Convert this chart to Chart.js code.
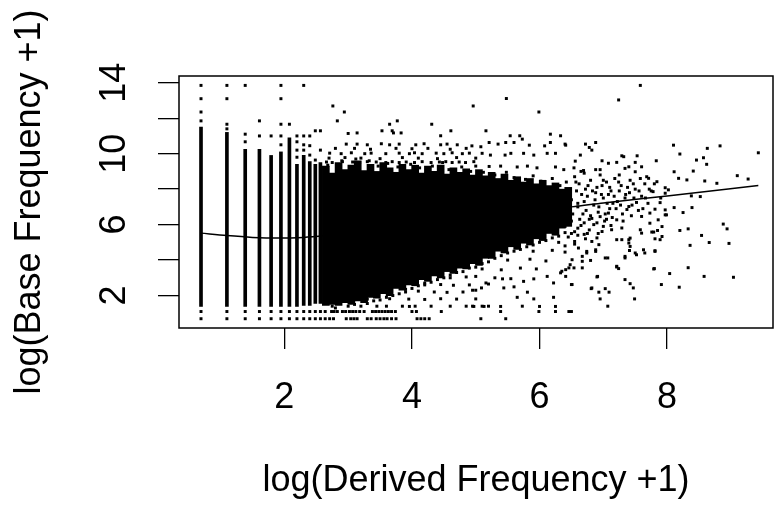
<!DOCTYPE html>
<html lang="en">
<head>
  <meta charset="UTF-8">
  <title>Base vs Derived Frequency</title>
  <script src="https://cdn.jsdelivr.net/npm/chart.js"></script>
  <style>
    html,body{margin:0;padding:0;background:#fff}
    canvas{display:block}
  </style>
</head>
<body>
<canvas id="plot" width="777" height="509"></canvas>
<script>
/* ================== Data ================== */
// discrete columns at low derived counts: x = log(k+1), solid stripe from lo to hi
const colX  = [0.693, 1.099, 1.386, 1.609, 1.792, 1.946, 2.079, 2.197, 2.303, 2.398, 2.485, 2.565];
const colLo = [1.386, 1.386, 1.386, 1.386, 1.386, 1.386, 1.386, 1.386, 1.45, 1.45, 1.55, 1.55];
const colHi = [11.5, 11.2, 10.25, 10.25, 9.9, 10.1, 10.9, 9.4, 9.9, 9.55, 9.4, 9.5];

// solid core of the cloud, one slice per 0.1 of x
const massX  = [2.65,2.75,2.85,2.95,3.05,3.15,3.25,3.35,3.45,3.55,3.65,3.75,3.85,3.95,4.05,4.15,4.25,4.35,4.45,4.55,4.65,4.75,4.85,4.95,5.05,5.15,5.25,5.35,5.45,5.55,5.65,5.75,5.85,5.95,6.05,6.15,6.25,6.35,6.45];
const massLo = [1.45,1.5,1.45,1.6,1.5,1.7,1.6,1.9,1.85,2.1,2.0,2.4,2.3,2.6,2.55,2.9,2.8,3.1,3.0,3.35,3.25,3.55,3.5,3.8,3.7,4.1,4.1,4.5,4.4,4.75,4.6,4.95,4.85,5.2,5.1,5.5,5.4,5.8,5.9];
const massHi = [9.3,8.9,9.5,9.1,9.35,9.6,9.05,9.4,9.0,9.5,9.2,8.95,9.4,9.1,9.35,8.9,9.3,9.0,9.35,8.85,9.2,8.95,9.15,8.8,9.1,8.75,8.95,8.6,8.85,8.5,8.7,8.4,8.6,8.3,8.5,8.2,8.35,8.0,8.1];

// isolated points above / below the column stripes
const colPts = [
  [0.693,13.85],[0.693,13.1],[0.693,12.35],[0.693,11.85],
  [1.099,13.85],[1.099,13.1],[1.099,11.66],[1.099,11.4],
  [1.386,13.85],[1.386,11.1],[1.386,10.67],
  [1.609,11.85],[1.609,11.0],
  [1.792,11.0],
  [1.946,13.85],[1.946,13.1],[1.946,11.66],[1.946,11.0],[1.946,10.5],
  [2.079,11.66],
  [2.197,11.0],[2.197,10.67],[2.197,10.2],[2.197,9.8],
  [2.303,13.85],[2.303,11.0],[2.303,10.5],[2.303,10.2],
  [2.398,11.0],[2.398,10.45],[2.398,9.92],
  [2.485,11.29],[2.485,9.64],
  [2.565,11.29],[2.565,10.2]
];

// sparse points above the cloud
const upperPts = [
  [5.48,13.11],[4.96,12.69],[5.99,12.35],[3.77,11.85],[3.65,11.66],[4.31,11.66],[3.53,11.29],[3.71,11.17],
  [3.83,11.17],[4.61,11.29],[5.16,11.29],[4.45,11.01],[6.17,11.10],[6.33,11.01],[5.54,11.01],[5.69,11.01],
  [2.76,12.69],[2.94,12.35],[2.83,11.85],[3.00,11.14],[3.14,11.17],[3.69,11.29],[7.58,13.85],[7.24,13.03],
  [5.73,10.82],[4.94,10.44],[5.08,10.39],[5.21,10.63],[5.35,10.54],[5.47,10.63],[5.60,10.63],[5.84,10.48],
  [6.08,10.44],[6.17,10.63],[6.40,10.54],[6.72,10.54],[6.78,10.35],[6.88,10.63],[6.41,10.48],[6.82,10.20],
  [5.10,10.02],[5.23,9.92],[5.46,9.92],[5.55,10.02],[5.75,10.02],[5.91,9.92],[6.12,10.02],[6.25,10.02],
  [6.64,9.92],[6.56,9.58],
  [2.97,10.54],[3.14,10.54],[3.30,10.5],[3.52,10.56],[3.65,10.5],[3.80,10.54],[4.06,10.5],[4.19,10.56],
  [4.45,10.5],[4.55,10.54],[4.71,10.5],
  [2.8,10.3],[3.1,10.3],[3.35,10.25],[3.75,10.3],[4.0,10.28],[4.25,10.3],[4.6,10.25],[4.85,10.3],
  [2.71,10.03],[2.89,10.0],[3.05,10.05],[3.26,10.0],[3.36,10.03],[3.59,10.0],[3.80,10.03],[3.96,10.0],
  [4.04,10.05],[4.16,10.0],[4.38,10.03],[4.50,10.0],[4.63,10.05],[4.79,10.0],[4.90,10.03],
  [2.7,9.75],[2.95,9.78],[3.2,9.75],[3.5,9.72],[3.85,9.78],[4.1,9.75],[4.4,9.72],[4.7,9.78],[5.0,9.75],
  [2.66,9.53],[2.75,9.5],[2.91,9.55],[3.07,9.53],[3.18,9.5],[3.30,9.55],[3.44,9.53],[3.59,9.5],[3.69,9.55],
  [3.80,9.5],[3.91,9.53],[4.04,9.5],[4.16,9.55],[4.30,9.5],[4.43,9.53],[4.53,9.55],[4.63,9.5],[4.74,9.53],
  [4.84,9.5],[4.97,9.55],
  [5.0,9.3],[5.21,9.28],[5.39,9.3],[5.65,9.25],[5.81,9.3],[5.96,9.2],[6.25,9.25],[6.38,9.1],[6.54,9.2],
  [6.69,9.05],[6.88,9.1],
  [2.68,9.35],[2.9,9.6],[3.12,9.7],[3.33,9.6],[3.47,9.3],[3.62,9.45],[3.78,9.25],[3.98,9.4],[4.12,9.2],
  [4.32,9.3],[4.48,9.5],[4.58,9.1],[4.78,9.25],[4.92,9.0],[5.12,8.95],[5.3,8.8],[5.48,8.95],[5.6,8.65],
  [5.78,8.55],[5.9,8.75],[6.02,8.45],[6.2,8.6],[6.32,8.2],[6.42,8.4]
];

// right-hand tail of the cloud
const rightPts = [
  [8.10,10.48],[8.83,10.44],[8.63,10.30],[9.43,10.05],[8.20,9.98],[8.46,9.64],[8.57,9.77],[8.62,9.40],
  [7.83,9.60],[7.53,9.88],[7.29,9.88],[7.50,9.51],[7.40,9.26],[7.60,9.26],[7.32,9.83],[7.21,9.51],
  [7.08,9.46],[6.98,9.60],[8.11,8.98],[8.41,9.02],[8.18,8.61],[8.31,8.52],[8.59,8.46],[8.78,8.33],
  [9.10,8.76],[9.27,8.57],[8.38,7.62],[8.52,7.58],[7.97,8.08],[7.97,7.77],[7.34,9.17],[7.50,8.98],
  [7.71,8.61],[7.84,8.42],[7.78,7.86],[8.02,7.96],
  [6.55,8.7],[6.62,8.3],[6.7,8.9],[6.75,7.6],[6.8,8.5],[6.85,7.1],[6.9,8.1],[6.95,8.8],[7.0,7.5],
  [7.05,8.4],[7.1,6.9],[7.12,7.9],[7.18,8.6],[7.22,7.3],[7.28,8.2],[7.3,6.6],[7.35,7.7],[7.42,8.5],
  [7.45,7.1],[7.5,8.0],[7.55,6.8],[7.6,7.6],[7.65,8.3],[7.7,7.2],[6.6,7.2],[6.68,6.6],[6.78,6.3],
  [6.92,6.7],[7.02,6.2],[6.58,7.9],[6.72,8.0],[6.88,7.8],[6.98,8.2],[7.08,7.7],[7.15,7.2],[7.25,7.9],
  [7.38,8.1],[7.48,7.5],[7.58,8.6],[6.65,9.0],[6.95,9.1],[7.25,8.8],[7.75,7.9],[7.8,8.3],[7.9,7.5],
  [7.68,8.7],
  [6.48,8.0],[6.5,7.4],[6.52,6.6],[6.57,8.4],[6.6,7.0],[6.63,6.3],[6.66,7.7],[6.7,7.3],[6.73,6.8],
  [6.76,8.2],[6.8,6.5],[6.83,7.9],[6.87,7.4],[6.9,6.1],[6.93,7.0],[6.97,7.7],[7.0,8.5],[7.03,6.6],
  [7.06,7.2],[7.1,8.1],[7.14,6.4],[7.17,7.6],[7.2,6.9],[7.24,8.4],[7.27,7.1],[7.31,6.2],[7.34,7.5],
  [7.37,6.85],[7.41,7.8],[7.44,6.5],[7.47,8.3],[7.52,7.25],[7.56,7.9],[7.62,6.9],[7.66,7.5],[7.72,8.0],
  [6.55,5.6],[6.65,5.95],[6.75,5.5],[6.82,6.35],[6.95,6.45],[7.12,5.95],
  [7.08,6.65],[7.21,6.27],[7.40,7.02],[7.60,6.46],[7.73,6.65],[7.86,6.27],[7.97,6.83],[7.89,7.24],
  [7.81,6.87],[8.11,6.96],[8.25,6.68],[8.39,6.96],[7.99,6.55],[8.88,6.03],[8.94,5.76],[8.33,5.76],
  [8.20,5.67],[8.54,5.39],[8.66,4.99],[8.97,4.94],[8.36,4.83],[7.92,5.33],[7.81,5.20],[7.76,5.58],
  [7.85,5.67],[7.58,5.71],[7.81,4.53],[7.65,4.40],[7.52,4.30],[7.42,4.77],[7.41,4.54],[7.34,4.12],
  [7.07,4.12],[7.80,3.52],[8.04,3.24],[8.33,3.57],[8.58,3.08],[9.04,3.03],[7.91,2.62],[8.19,2.47],
  [7.21,3.61],[7.24,3.52],[6.91,3.08],[7.34,2.90],[7.42,2.67],[7.47,2.43],[7.03,2.39],[6.81,2.39],
  [6.93,2.19],[7.09,2.19],[6.95,1.81],[7.49,1.81],[7.07,1.40],[6.50,2.62],[6.82,5.05],[6.93,4.87],
  [6.74,4.49],[6.88,4.49],[6.61,4.68],[6.67,4.21],[6.80,3.98],[6.67,3.56],[6.51,4.02],[6.48,3.74],
  [6.41,3.46],[6.35,3.37],[6.54,3.56],[7.40,5.15],[7.29,5.15],[7.21,5.15],[7.42,5.24],[7.13,5.71],
  [7.29,5.81],[6.98,5.61],
  [6.4,5.9],[6.5,6.2],[6.6,5.8],[6.7,6.1],[6.78,5.7],[6.85,6.0],[6.92,5.5],[6.45,5.3],[6.6,5.4],
  [6.72,5.2],[6.9,5.25],[7.0,5.9],[7.05,6.3],[6.55,4.9],[6.4,4.8]
];

// sparse points under the cloud
const lowerPts = [
  [2.7,1.8],[2.9,1.82],[3.05,1.78],[3.3,1.8],[3.5,1.75],[3.65,1.82],[3.95,1.8],[4.2,1.78],[4.45,1.82],[4.7,1.8],
  [2.75,1.4],[3.0,1.4],[3.2,1.4],[3.45,1.4],[3.6,1.4],[3.85,1.4],[4.05,1.4],[4.3,1.4],[4.6,1.4],[4.85,1.4],[5.2,1.4],
  [3.9,2.2],[4.1,2.25],[4.35,2.2],[4.55,2.18],[4.8,2.2],[5.0,2.3],
  [4.2,2.6],[4.45,2.62],[4.65,2.58],[4.9,2.6],[5.2,2.65],
  [4.6,3.0],[4.85,3.05],[5.3,3.0],[5.55,2.95],
  [5.1,3.5],[5.4,3.45],[5.7,3.55],[5.95,3.5],
  [5.5,4.0],[5.85,4.05],[6.1,3.95],[5.9,4.5],[6.2,4.55],[6.4,4.45],[6.3,5.0],[6.55,5.05],[6.5,5.5],[6.7,5.45],
  [4.95,2.30],[5.09,2.43],[5.00,1.81],[4.95,1.40],[5.10,1.40],[5.73,1.40],[5.65,1.90],[5.91,1.81],
  [5.81,2.19],[5.44,2.43],[5.60,2.49],[6.22,1.90],[6.51,2.62],[6.90,3.05],[6.82,2.43],[7.79,3.50],
  [7.21,3.65],[5.00,3.08],[5.16,2.71],[5.42,2.94],[5.75,2.80],[5.91,2.94],[6.12,3.08],[6.22,2.71],
  [6.33,3.28],[6.41,3.08],[6.46,3.56],[6.67,3.93],[6.74,4.40],[6.88,4.58],[7.03,4.12],[7.34,4.21],
  [7.50,4.40],[7.63,4.58],[7.81,4.49],[7.89,5.15],[7.79,5.58],[7.40,4.96],[7.60,5.52],[7.73,6.08],
  [7.92,5.89],[7.97,6.55],
  [3.96,1.386],[4.97,1.386],[5.13,1.386],[5.39,1.386],[6.0,1.386],[6.25,1.386],
  [2.8,1.3],[3.1,1.5],[3.3,1.55],[3.4,1.7],[3.6,1.9],[3.7,2.0],[3.8,2.1],[3.9,2.35],[4.0,2.4],
  [4.1,2.55],[4.2,2.7],[4.3,2.75],[4.4,2.9],[4.5,3.0],[4.6,3.15],[4.7,3.3],[4.8,3.35],[4.9,3.55],
  [5.0,3.6],[5.1,3.8],[5.2,3.9],[5.3,4.1],[5.4,4.25],[5.5,4.4],[5.6,4.5],[5.7,4.6],[5.8,4.75],
  [5.9,4.85],[6.0,5.0],[6.1,5.1],[6.2,5.25],[6.3,5.35],[6.4,5.55]
];

// the two lowest base values, log(2) and log(3)
const rowOneX = [0.693,1.099,1.386,1.609,1.792,1.946,2.079,2.197,2.303,2.398,2.485,2.565,2.64,2.71,2.77,2.97,3.04,3.09,3.14,3.30,3.36,3.44,3.5,3.56,3.61,3.68,3.75,4.08,4.14,4.2,4.27,5.08,5.47];
const rowTwoX = [0.693,1.099,1.386,1.609,1.792,1.946,2.079,2.197,2.303,2.398,2.485,2.565,2.64,2.74,2.78,2.83,2.91,2.96,3.02,3.07,3.12,3.18,3.25,3.38,3.43,3.48,3.53,3.58,3.63,3.68,3.74,4.0,4.07,4.46,5.39,5.99,6.25,6.46,6.50];

// smoothed trend line
const fitX = [0.69, 1.1, 1.5, 1.9, 2.3, 2.7, 3.5, 4.5, 5.5, 6.5, 7.0, 8.0, 9.43];
const fitY = [5.52, 5.38, 5.28, 5.24, 5.28, 5.40, 5.7, 6.25, 6.7, 7.0, 7.22, 7.62, 8.2];

// tick labels (R drops every other one because they would overlap)
const yTickLabels = [2, 6, 10, 14];

/* ================== Chart ================== */
const FONT = "'Liberation Sans', Arial, Helvetica, sans-serif";
Chart.defaults.font.family = FONT;
Chart.defaults.color = '#000';

const toXY = arr => arr.map(p => ({x: p[0], y: p[1]}));
const dots = [].concat(
  toXY(colPts), toXY(upperPts), toXY(rightPts), toXY(lowerPts),
  rowOneX.map(x => ({x, y: 0.693})),
  rowTwoX.map(x => ({x, y: 1.099}))
);
const colBars  = colX.map((x, i) => ({x, y: [colLo[i], colHi[i]]}));
const massBars = massX.map((x, i) => ({x, y: [massLo[i], massHi[i]]}));
const fitLine  = fitX.map((x, i) => ({x, y: fitY[i]}));

// R style box round the plot region
const boxPlugin = {
  id: 'rbox',
  afterDraw(chart){
    const {ctx, chartArea: a} = chart;
    ctx.save();
    ctx.strokeStyle = '#000';
    ctx.lineWidth = 1.5;
    ctx.strokeRect(a.left, a.top, a.right - a.left, a.bottom - a.top);
    ctx.restore();
  }
};

new Chart(document.getElementById('plot'), {
  type: 'scatter',
  data: {
    datasets: [
      {type: 'line', data: fitLine, borderColor: '#000', borderWidth: 1.5, pointRadius: 0,
       cubicInterpolationMode: 'monotone', fill: false, order: 0},
      {type: 'bar', data: colBars, backgroundColor: '#000', barThickness: 3, grouped: false, order: 1},
      {type: 'bar', data: massBars, backgroundColor: '#000', barThickness: 7, grouped: false, order: 2},
      {type: 'scatter', data: dots, pointStyle: 'rect', pointRadius: 2.1, backgroundColor: '#000',
       borderWidth: 0, order: 3}
    ]
  },
  options: {
    responsive: false,
    animation: false,
    devicePixelRatio: 1,
    layout: {padding: {top: 76, right: 2, left: 0, bottom: 0}},
    plugins: {legend: {display: false}, tooltip: {enabled: false}},
    scales: {
      x: {
        type: 'linear', min: 0.348, max: 9.66, offset: false,
        afterFit(s){ s.height = 181; },
        border: {display: false},
        grid: {drawOnChartArea: false, drawTicks: true, tickLength: 21, color: '#000', lineWidth: 1.3, offset: false},
        ticks: {stepSize: 2, includeBounds: false, autoSkip: false, maxRotation: 0,
                padding: 27, color: '#000', font: {size: 36}},
        title: {display: true, text: 'log(Derived Frequency +1)', color: '#000',
                font: {size: 36}, padding: {top: 0, bottom: 6}}
      },
      y: {
        type: 'linear', min: 0.17, max: 14.38, beginAtZero: false,
        afterFit(s){ s.width = 179; },
        border: {display: false},
        grid: {drawOnChartArea: false, drawTicks: true, tickLength: 21, color: '#000', lineWidth: 1.3},
        ticks: {stepSize: 2, includeBounds: false, autoSkip: false, minRotation: 90, maxRotation: 90,
                crossAlign: 'center', padding: 23, color: '#000', font: {size: 36},
                callback: v => yTickLabels.includes(v) ? String(v) : ''},
        title: {display: true, text: 'log(Base Frequency +1)', color: '#000',
                font: {size: 36}, padding: {top: 8, bottom: 0}}
      }
    }
  },
  plugins: [boxPlugin]
});
</script>
</body>
</html>
